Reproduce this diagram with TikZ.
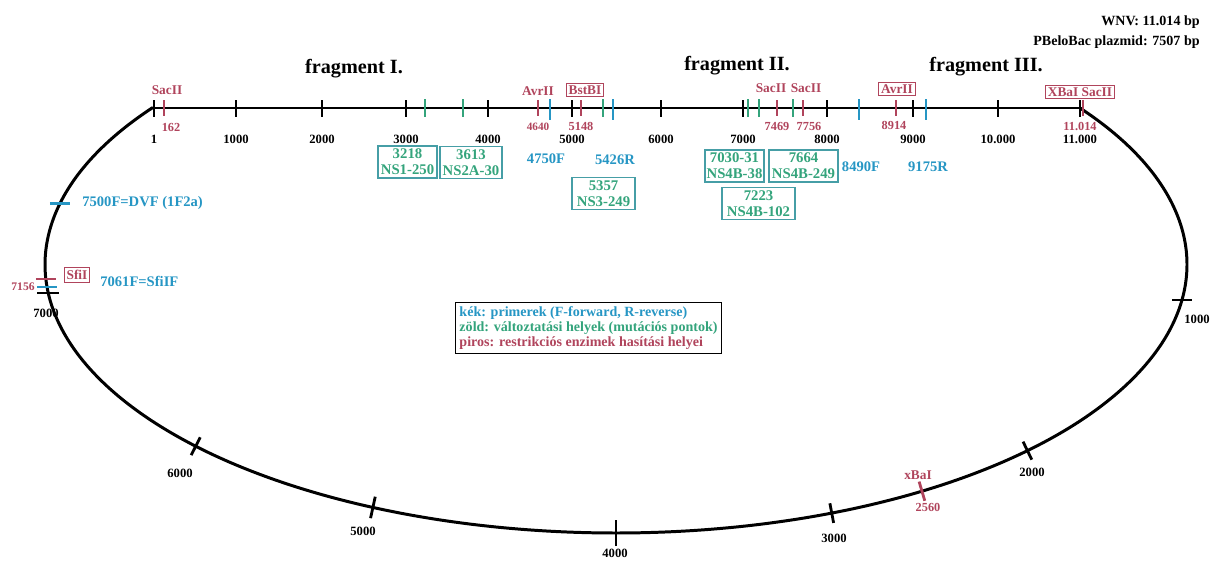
\documentclass[tikz,border=0pt]{standalone}
\usepackage{fontspec}
\setmainfont{Liberation Serif}
\usetikzlibrary{calc}
\definecolor{EnzRed}{RGB}{176,68,92}
\definecolor{PrimBlue}{RGB}{38,150,196}
\definecolor{MutGreen}{RGB}{52,164,124}
\definecolor{BoxTeal}{RGB}{70,158,166}

\begin{document}
\begin{tikzpicture}[x=0.02cm, y=-0.02cm,
    font=\bfseries,
    bb/.style={line width=1.7pt, black},
    tk/.style={line width=1.6pt, black},
    mk/.style={line width=1.6pt},
    num/.style={font=\bfseries\fontsize{7.2}{8}\selectfont, inner sep=0pt},
    enz/.style={text=EnzRed, font=\bfseries\fontsize{7.6}{8}\selectfont, inner sep=0pt},
    enzbox/.style={enz, draw=EnzRed, line width=0.6pt, inner sep=1.4pt},
    mutbox/.style={draw=BoxTeal, line width=0.7pt, text=MutGreen, align=center,
        font=\bfseries\fontsize{8.4}{9.2}\selectfont, inner sep=0.5pt, minimum height=0.64cm},
    prim/.style={text=PrimBlue, font=\bfseries\fontsize{8.3}{9}\selectfont, inner sep=0pt},
    frag/.style={font=\bfseries\fontsize{11.5}{12}\selectfont, inner sep=0pt},
]
\useasboundingbox (0,0) rectangle (1212,561);

% ---- WNV szakasz (egyenes) ----
\coordinate (wstart) at (154,108);
\coordinate (wstop) at (1082,108);
\draw[bb] (wstart) -- (wstop);

% ---- plazmid (ellipszis) ----
\draw[bb] plot[domain=215.8:-35.5, samples=240, smooth]
    ({616+571*cos(\x)},{264.5+268.5*sin(\x)});

% skala a WNV szakaszon
\foreach \x/\lab in {154/1, 236/1000, 322/2000, 406/3000, 488/4000, 572/5000,
                     661/6000, 743/7000, 827/8000, 913/9000, 998/10.000, 1080/11.000}{
    \draw[tk] (\x,100) -- (\x,117);
    \node[num] (sc\x) at (\x,139) {\lab};
}

% jelek: piros, zold, kek
\foreach \x in {164, 538, 581, 777, 803, 896, 1083}
    \draw[mk, EnzRed] (\x,100) -- (\x,116);
\foreach \x in {425, 463, 603, 748, 759, 793}
    \draw[mk, MutGreen] (\x,99) -- (\x,117);
\foreach \x in {550, 613, 859, 926}
    \draw[mk, PrimBlue] (\x,99) -- (\x,120);

% skala a plazmidon
\foreach \t/\n/\len in {7.6/1000/10, 43.9/2000/10, 67.8/3000/10, 90/4000/13,
                        115.2/5000/11, 137.4/6000/10, 173.9/7000/11}{
    \pgfmathsetmacro\nrm{atan2(sin(\t)/268.5, cos(\t)/571)}
    \coordinate (p\n) at ({616+571*cos(\t)},{264.5+268.5*sin(\t)});
    \draw[tk] (p\n) ++(\nrm:\len) -- ++(\nrm+180:2*\len);
}
\foreach \t/\n/\col in {57.6/xbai/EnzRed, 175.2/sfiif/PrimBlue, 176.9/sfii/EnzRed,
                        193.1/dvf/PrimBlue}{
    \pgfmathsetmacro\nrm{atan2(sin(\t)/268.5, cos(\t)/571)}
    \coordinate (p\n) at ({616+571*cos(\t)},{264.5+268.5*sin(\t)});
    \draw[mk, \col] (p\n) ++(\nrm:10) -- ++(\nrm+180:20);
}

\node[num] (pl1000) at (1197,319) {1000};
\node[num] (pl2000) at (1032,472) {2000};
\node[num] (pl3000) at (834,538) {3000};
\node[num] (pl4000) at (615,553) {4000};
\node[num] (pl5000) at (363,531) {5000};
\node[num] (pl6000) at (180,473) {6000};
\node[num] (pl7000) at (46,313) {7000};

% ---- fragmentek ----
\node[frag] (fr1) at (354,69) {fragment I.};
\node[frag] (fr2) at (737,66) {fragment II.};
\node[frag] (fr3) at (986,67) {fragment III.};

\node[font=\bfseries\fontsize{8}{9}\selectfont, inner sep=0pt, anchor=east] (wnv) at (1200,22)
    {WNV: 11.014 bp};
\node[font=\bfseries\fontsize{8}{9}\selectfont, inner sep=0pt, anchor=east] (belo) at (1200,42)
    {PBeloBac plazmid: 7507 bp};

% ---- restrikcios helyek ----
\node[enz] (sac1) at (167,90) {SacII};
\node[enz, font=\bfseries\fontsize{7}{8}\selectfont] (n162) at (171,127) {162};
\node[enz] (avr1) at (538,91) {AvrII};
\node[enz, font=\bfseries\fontsize{6.4}{8}\selectfont] (n4640) at (538,127) {4640};
\node[enzbox] (bst) at (585,90) {BstBI};
\node[enz, font=\bfseries\fontsize{7}{8}\selectfont] (n5148) at (581,126) {5148};
\node[enz] (sac2) at (771,88) {SacII};
\node[enz] (sac3) at (806,88) {SacII};
\node[enz, font=\bfseries\fontsize{7}{8}\selectfont] (n7469) at (777,126) {7469};
\node[enz, font=\bfseries\fontsize{7}{8}\selectfont] (n7756) at (809,126) {7756};
\node[enzbox] (avr2) at (897,89) {AvrII};
\node[enz, font=\bfseries\fontsize{7}{8}\selectfont] (n8914) at (894,125) {8914};
\node[enzbox] (xbs) at (1080,92) {XBaI SacII};
\node[enz, font=\bfseries\fontsize{7}{8}\selectfont] (n11014) at (1080,126) {11.014};
\node[enz] (xbai) at (918,475) {xBaI};
\node[enz, font=\bfseries\fontsize{7}{8}\selectfont] (n2560) at (928,507) {2560};
\node[enz, font=\bfseries\fontsize{6.6}{8}\selectfont] (n7156) at (23,287) {7156};
\node[enzbox] (sfi) at (77,275) {SfiI};

% ---- primerek ----
\node[prim] (f4750) at (546,159) {4750F};
\node[prim] (r5426) at (615,160) {5426R};
\node[prim] (f8490) at (861,167) {8490F};
\node[prim] (r9175) at (928,167) {9175R};
\node[prim, anchor=west] (f7061) at (100,281) {7061F=SfiIF};
\node[prim, anchor=west] (f7500) at (82,203) {7500F=DVF (1F2a)};

% ---- mutacios pontok ----
\node[mutbox, minimum width=1.18cm] (m3218) at (407.5,162) {3218\\NS1-250};
\node[mutbox, minimum width=1.24cm] (m3613) at (471,162.5) {3613\\NS2A-30};
\node[mutbox, minimum width=1.26cm] (m5357) at (603.5,193.5) {5357\\NS3-249};
\node[mutbox, minimum width=1.18cm] (m7030) at (734.5,166) {7030-31\\NS4B-38};
\node[mutbox, minimum width=1.38cm] (m7664) at (803.5,166) {7664\\NS4B-249};
\node[mutbox, minimum width=1.46cm] (m7223) at (758.5,203.5) {7223\\NS4B-102};

% ---- jelmagyarazat ----
\node[draw=black, line width=0.7pt, anchor=north west, align=left, inner sep=2.2pt,
      font=\bfseries\fontsize{8}{8.6}\selectfont] (leg) at (455,302)
    {\textcolor{PrimBlue}{kék: primerek (F-forward, R-reverse)}\\
     \textcolor{MutGreen}{zöld: változtatási helyek (mutációs pontok)}\\
     \textcolor{EnzRed}{piros: restrikciós enzimek hasítási helyei}};

\end{tikzpicture}
\end{document}
